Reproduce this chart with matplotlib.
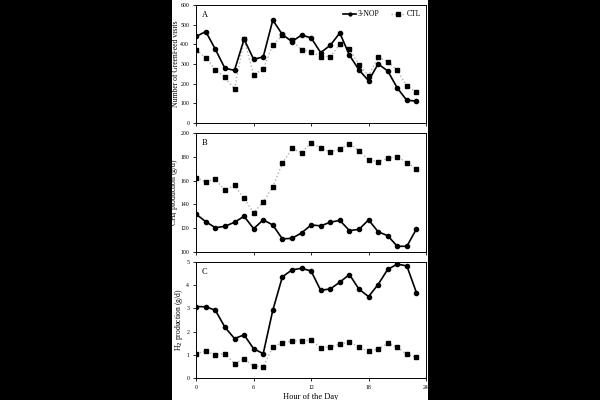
import numpy as np
import matplotlib
matplotlib.use("Agg")
import matplotlib.pyplot as plt
from matplotlib.patches import Rectangle

plt.rcParams['font.family'] = ['Liberation Serif', 'DejaVu Serif']

hours = np.arange(0, 24)

# panel A: GreenFeed visits
visits_nop = [440, 465, 375, 278, 268, 426, 324, 336, 523, 450, 414, 447,
              433, 358, 395, 458, 345, 270, 215, 300, 265, 178, 115, 112]
visits_ctl = [370, 332, 272, 232, 172, 425, 245, 275, 397, 445, 420, 372,
              362, 338, 338, 400, 378, 295, 240, 335, 312, 268, 188, 158]

# panel B: CH4 production
ch4_nop = [131.7, 125.5, 120.4, 121.6, 125, 130, 119.6, 127, 122.7, 111, 111.5, 116,
           122.7, 122, 125, 126.6, 118, 119, 127, 117, 113.7, 104.8, 104.8, 119.3]
ch4_ctl = [162.5, 159, 161, 152, 156, 145, 133, 142, 155, 174.5, 187, 183.5,
           191.5, 187.5, 184, 186.5, 191, 185, 177.5, 176, 178.7, 180, 175, 170]

# panel C: H2 production
h2_nop = [3.08, 3.07, 2.92, 2.19, 1.70, 1.86, 1.26, 1.05, 2.92, 4.36, 4.66, 4.73,
          4.61, 3.78, 3.84, 4.13, 4.46, 3.83, 3.51, 4.03, 4.68, 4.91, 4.83, 3.68]
h2_ctl = [1.05, 1.16, 1.00, 1.05, 0.62, 0.82, 0.50, 0.49, 1.33, 1.53, 1.59, 1.60,
          1.63, 1.30, 1.35, 1.45, 1.56, 1.32, 1.15, 1.25, 1.50, 1.32, 1.02, 0.90]

fig = plt.figure(figsize=(6, 4), dpi=100, facecolor="black")
fig.patches.append(Rectangle((172/600, 0), 256/600, 1, transform=fig.transFigure,
                             facecolor="white", edgecolor="none", zorder=-10))

panels = [
    ("A", visits_nop, visits_ctl, (0, 600), np.arange(0, 601, 100), "Number of GreenFeed visits", [0.327, 0.6925, 0.383, 0.295], -0.07),
    ("B", ch4_nop, ch4_ctl, (100, 200), np.arange(100, 201, 20), "CH$_4$ production (g/d)", [0.327, 0.37, 0.383, 0.2975], -0.07),
    ("C", h2_nop, h2_ctl, (0, 5), np.arange(0, 6, 1), "H$_2$ production (g/d)", [0.327, 0.055, 0.383, 0.29], -0.05),
]

for i, (lab, nop, ctl, ylim, yt, ylab, pos, lx) in enumerate(panels):
    ax = fig.add_axes(pos)
    ax.plot(hours, ctl, color="#b0b0b0", ls=":", lw=1.0, marker="s", ms=3.5,
            mfc="black", mec="black", label="CTL", zorder=2)
    ax.plot(hours, nop, color="black", ls="-", lw=1.2, marker="o", ms=3,
            mfc="black", mec="black", label="3-NOP", zorder=3)
    ax.set_xlim(0, 24)
    ax.set_ylim(*ylim)
    ax.set_yticks(yt)
    ax.set_xticks([0, 6, 12, 18, 24])
    ax.tick_params(direction="out", length=2.5, width=0.6, labelsize=4.2, pad=2.5, colors="black")
    for s in ax.spines.values():
        s.set_linewidth(0.7)
    ax.set_ylabel(ylab, fontsize=5.5)
    ax.yaxis.set_label_coords(lx, 0.5)
    ax.text(0.025, 0.95, lab, transform=ax.transAxes, fontsize=6, va="top", ha="left")
    if i < 2:
        ax.set_xticklabels([])
    else:
        ax.set_xlabel("Hour of the Day", fontsize=6, labelpad=2)
    if i == 0:
        h, l = ax.get_legend_handles_labels()
        ax.legend(h[::-1], l[::-1], loc="upper right", ncol=2, frameon=False, fontsize=5.5,
                  handlelength=1.8, columnspacing=1.5, handletextpad=0.2,
                  borderaxespad=0.3, markerscale=0.7)

fig.savefig("out.png", dpi=100, facecolor="black")
